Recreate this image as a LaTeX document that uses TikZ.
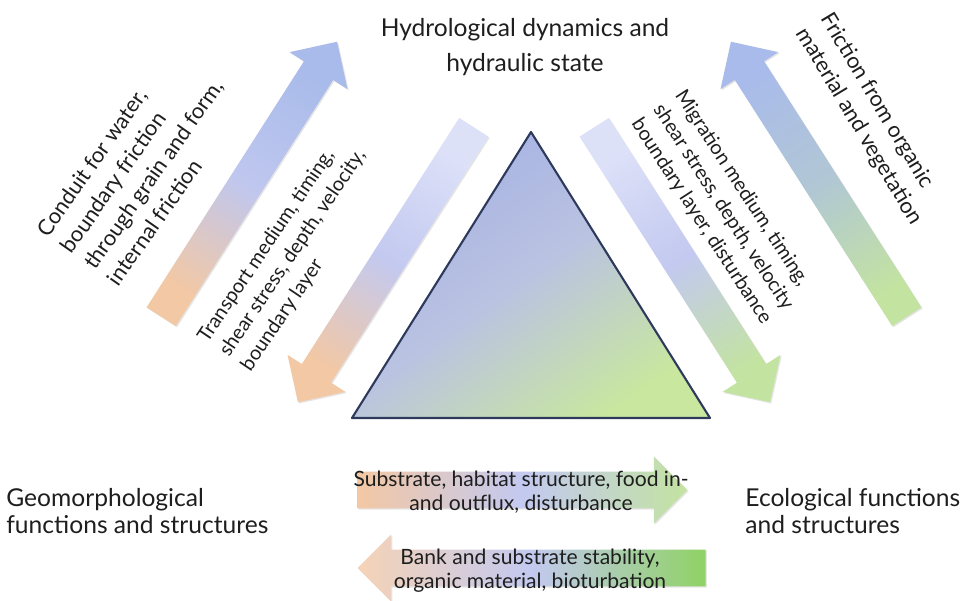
\documentclass[tikz,border=0pt]{standalone}
\usepackage{fontspec}
\setmainfont{Lato}
\usetikzlibrary{positioning, shapes.arrows, shadows}

\definecolor{peach}{HTML}{F3C8A4}
\definecolor{lavender}{HTML}{C3C9F0}
\definecolor{palelav}{HTML}{DDE1F8}
\definecolor{bluehead}{HTML}{A9BBEA}
\definecolor{softgreen}{HTML}{C3E3A1}
\definecolor{brightgreen}{HTML}{8FD264}
\definecolor{triblue}{HTML}{A5B1E4}
\definecolor{trimid}{HTML}{BAC3E1}
\definecolor{trigreen}{HTML}{C9E79F}
\definecolor{triborder}{HTML}{2E3A5C}
\definecolor{ink}{HTML}{1E1E1E}

\begin{document}
\begin{tikzpicture}[
    x=0.02cm, y=-0.02cm,
    blockarrow/.style={single arrow, inner xsep=0pt, inner ysep=0.34cm,
        single arrow head extend=0.34cm, single arrow tip angle=90, anchor=tail,
        drop shadow={shadow xshift=0.7pt, shadow yshift=-0.7pt, opacity=0.2}},
    flatarrow/.style={blockarrow, inner ysep=0.36cm, single arrow head extend=0.3cm},
    linktext/.style={font=\fontsize{12.4}{16.2}\selectfont, align=left, inner sep=0pt, anchor=north west, text=ink},
    linktextsmall/.style={linktext, font=\fontsize{11.3}{14.8}\selectfont},
    arrowtext/.style={font=\fontsize{12}{13.6}\selectfont, align=center, inner sep=0pt, text=ink},
    corner/.style={font=\fontsize{14}{15.4}\selectfont, align=left, inner sep=0pt, text=ink}
]
\path[use as bounding box, fill=white] (0,0) rectangle (977,600);

% Corner labels
\node[corner, align=center, font=\fontsize{14}{20.4}\selectfont] (hydro) at (525,47) {Hydrological dynamics and\\hydraulic state};
\node[corner, anchor=west] (geo) at (6,511) {Geomorphological\\functions and structures};
\node[corner, anchor=west] (eco) at (745,511) {Ecological functions\\and structures};

% Triangle
\coordinate (apex) at (531,132);
\coordinate (baseL) at (352,418);
\coordinate (baseR) at (710,418);
\draw[line width=1.2pt, draw=triborder, line join=round, top color=triblue, bottom color=trigreen, middle color=trimid, shading angle=35]
    (apex) -- (baseR) -- (baseL) -- cycle;

% Diagonal arrows (shading angle = direction + 90)
\node[blockarrow, rotate=57.4, minimum height=6.53cm, left color=peach, right color=bluehead, middle color=lavender!85!bluehead, shading angle=147.4] (conduit) at (161,317) {};
\node[blockarrow, rotate=237.4, minimum height=6.53cm, left color=palelav, right color=peach, middle color=lavender, shading angle=327.4] (transport) at (474,127) {};
\node[blockarrow, rotate=-57.4, minimum height=6.53cm, left color=palelav, right color=softgreen, middle color=lavender, shading angle=32.6] (migration) at (594,127) {};
\node[blockarrow, rotate=122.6, minimum height=6.53cm, left color=softgreen, right color=bluehead, middle color=bluehead!70!softgreen, shading angle=212.6] (friction) at (907,317) {};

% Bottom arrows
\node[flatarrow, minimum height=6.6cm, left color=peach, right color=softgreen, middle color=lavender] (substrate) at (357,490) {};
\node[flatarrow, rotate=180, minimum height=6.96cm, left color=brightgreen, right color=peach!80!white, middle color=lavender, shading angle=270] (bank) at (706,568) {};

% Arrow texts
\node[linktext, rotate=55] (conduittext) at (35,229) {Conduit for water,\\boundary friction\\through grain and form,\\internal friction};
\node[linktextsmall, rotate=56] (transporttext) at (195,335) {Transport medium, timing,\\shear stress, depth, velocity,\\boundary layer};
\node[linktextsmall, rotate=-57] (migrationtext) at (687,87) {Migration medium, timing,\\shear stress, depth, velocity\\boundary layer, disturbance};
\node[linktext, rotate=-59] (frictiontext) at (834,10) {Friction from organic\\material and vegetation};
\node[arrowtext] (substratetext) at (521,492) {Substrate, habitat structure, food in-\\and outflux, disturbance};
\node[arrowtext] (banktext) at (530,571) {Bank and substrate stability,\\organic material, bioturbation};

\end{tikzpicture}
\end{document}
